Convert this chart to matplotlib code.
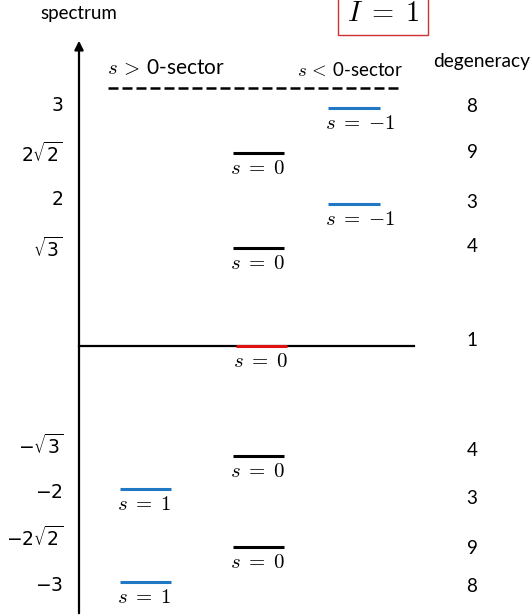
import matplotlib.pyplot as plt

plt.rcParams['font.family'] = ['Lato', 'DejaVu Sans']

# spectrum levels, drawn top to bottom (positions are the sketch rows, not to scale)
tick_labels = [r'$3$', r'$2\sqrt{2}$', r'$2$', r'$\sqrt{3}$',
               r'$-\sqrt{3}$', r'$-2$', r'$-2\sqrt{2}$', r'$-3$']
tick_y = [105, 153, 199, 248, 445, 492, 537, 585]

level_y = [108, 153, 204, 248, 346, 456, 489, 547, 582]
level_s = [-1, 0, -1, 0, 0, 0, 1, 0, 1]
degeneracy = [8, 9, 3, 4, 1, 4, 3, 9, 8]
degeneracy_y = [107, 153, 202, 247, 340, 450, 498, 548, 587]

# horizontal span of each sector column
sector_x = {-1: (328, 380), 0: (233, 284), 1: (120, 171)}
sector_color = {-1: '#1f78c1', 0: 'black', 1: '#1f78c1'}

fig = plt.figure(figsize=(5.32, 6.16), dpi=100)
ax = fig.add_axes([0, 0, 1, 1])
ax.set_xlim(0, 532)
ax.set_ylim(616, 0)
ax.axis('off')

# vertical spectrum axis and the zero line
ax.annotate('', xy=(79, 38), xytext=(79, 616),
            arrowprops=dict(arrowstyle='-|>', lw=1.6, color='black', mutation_scale=13))
ax.plot([79, 414], [346, 346], color='black', lw=1.6)
ax.plot([108, 398], [88, 88], color='black', lw=1.8, linestyle=(0, (4, 1.6)))

ax.text(40, 13, 'spectrum', fontsize=13.5, va='center', ha='left')
ax.text(433, 62, 'degeneracy', fontsize=13.8, va='center', ha='left')
ax.text(383, 13, r'$I\;=\;1$', fontsize=20.5, ha='center', va='center', math_fontfamily='cm',
        bbox=dict(boxstyle='square,pad=0.3', facecolor='white', edgecolor='#d03030', lw=1))
ax.text(107, 68, r'$s\,>\,$0-sector', fontsize=15, ha='left', va='center', math_fontfamily='cm')
ax.text(297, 70, r'$s\,<\,$0-sector', fontsize=13.5, ha='left', va='center', math_fontfamily='cm')

for lab, y in zip(tick_labels, tick_y):
    ax.text(63, y, lab, fontsize=13.5, ha='right', va='center', math_fontfamily='dejavusans')

for y, s in zip(level_y, level_s):
    x0, x1 = sector_x[s]
    col = sector_color[s]
    if y == 346:
        x0, x1, col = 236, 287, '#e01010'
    ax.plot([x0, x1], [y, y], color=col, lw=2.2, solid_capstyle='butt')
    ax.text(x0 - 3, y + 15, r'$s\;=\;{%d}$' % s, fontsize=15, ha='left', va='center',
            math_fontfamily='cm')

for d, y in zip(degeneracy, degeneracy_y):
    ax.text(472, y, str(d), fontsize=13.5, ha='center', va='center')

fig.savefig('out.png', dpi=100)
